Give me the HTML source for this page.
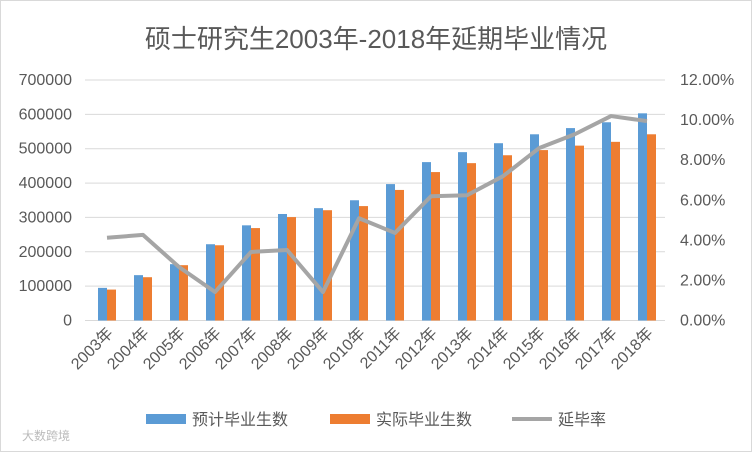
<!DOCTYPE html>
<html><head><meta charset="utf-8"><style>
body{margin:0;background:#fff;}
svg{display:block;font-family:"Liberation Sans","Noto Sans CJK SC",sans-serif;}
</style></head><body>
<svg id="chart" width="752" height="452">
<rect x="0.5" y="0.5" width="751" height="451" fill="#fff" stroke="#d9d9d9"/>
<text x="376" y="48" text-anchor="middle" font-size="26" fill="#595959">硕士研究生2003年-2018年延期毕业情况</text>
<g id="grid"></g><g id="bars"></g><g id="line"></g><g id="axes"></g>
<g>
<rect x="146" y="414" width="40" height="10" fill="#5b9bd5"/>
<text x="192" y="425" font-size="16" fill="#595959">预计毕业生数</text>
<rect x="330" y="414" width="40" height="10" fill="#ed7d31"/>
<text x="376" y="425" font-size="16" fill="#595959">实际毕业生数</text>
<line x1="512" y1="419" x2="552" y2="419" stroke="#a5a5a5" stroke-width="4"/>
<text x="558" y="425" font-size="16" fill="#595959">延毕率</text>
</g>
<text x="22" y="440" font-size="12" fill="#bbb">大数跨境</text>
</svg>
<script>
const categories=["2003年","2004年","2005年","2006年","2007年","2008年","2009年","2010年","2011年","2012年","2013年","2014年","2015年","2016年","2017年","2018年"];
const planned=[95000,132000,164000,222000,277000,310000,327000,350000,397000,461000,490000,516000,542000,560000,577000,603000];
const actual=[90000,126000,161000,219000,269000,301000,321000,333000,380000,432000,458000,481000,496000,509000,520000,542000];
const rate=[4.13,4.27,2.67,1.42,3.42,3.52,1.42,5.1,4.37,6.2,6.25,7.2,8.6,9.3,10.2,9.95];
const leftTicks=[0,100000,200000,300000,400000,500000,600000,700000];
const rightTicks=[0,2,4,6,8,10,12];
const NS="http://www.w3.org/2000/svg";
const X0=89,CW=36,Y0=320.5,H=240.5;
const yL=v=>Y0-v/700000*H, yR=v=>Y0-v/12*H, xC=i=>X0+CW*(i+0.5);
function mk(t,a,p){const e=document.createElementNS(NS,t);for(const k in a)e.setAttribute(k,a[k]);document.getElementById(p).appendChild(e);return e;}
leftTicks.forEach((v,i)=>{
 const l=mk('line',{x1:X0-4,x2:X0+CW*16,y1:yL(v),y2:yL(v),stroke:'#d9d9d9'},'grid');
 
 
 const t=mk('text',{x:72,y:yL(v)+5,'text-anchor':'end','font-size':16,fill:'#595959'},'axes');
 t.textContent=v;
 
 
});
rightTicks.forEach(v=>{
 const t=mk('text',{x:680,y:yR(v)+5,'font-size':16,fill:'#595959'},'axes');
 t.textContent=v.toFixed(2)+'%';
 
 
});
categories.forEach((c,i)=>{
 const cx=xC(i);
 const b=mk('rect',{x:cx-9,y:yL(planned[i]),width:9,height:Y0-yL(planned[i]),fill:'#5b9bd5'},'bars');
 
 
 const o=mk('rect',{x:cx,y:yL(actual[i]),width:9,height:Y0-yL(actual[i]),fill:'#ed7d31'},'bars');
 
 
 const t=mk('text',{x:cx+7,y:334,'text-anchor':'end','font-size':16,fill:'#595959',transform:`rotate(-45 ${cx+7} 334)`},'axes');
 t.textContent=c;
 
 
});
const p=mk('polyline',{points:rate.map((r,i)=>xC(i)+','+yR(r)).join(' '),fill:'none',stroke:'#a5a5a5','stroke-width':4,'stroke-linejoin':'round'},'line');


</script>
</body></html>
